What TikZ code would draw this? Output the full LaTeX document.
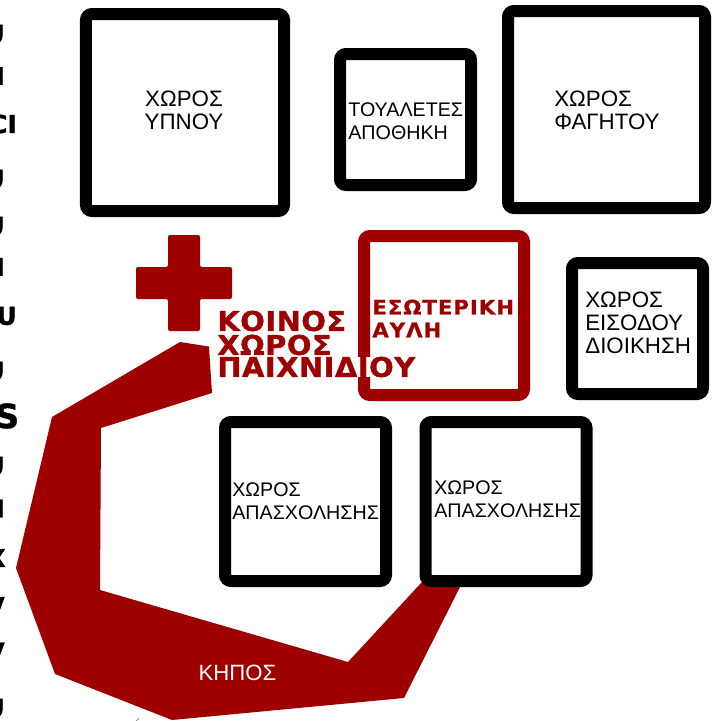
\documentclass[tikz,border=0pt]{standalone}
\usepackage{fontspec}
\setmainfont{Liberation Sans}
\newfontfamily\heavyfont{DejaVu Sans}
\newfontfamily\titlefont[FakeBold=1.2,FakeStretch=1.06,LetterSpace=2]{DejaVu Sans Bold}
\newfontfamily\yardfont[FakeBold=0.8,FakeStretch=1.06,LetterSpace=5]{DejaVu Sans Bold}
\newfontfamily\sidefont[FakeBold=1.2]{DejaVu Sans Bold}
\definecolor{darkred}{RGB}{158,0,0}
\tikzset{
  room/.style={draw=black,line width=0.24cm,rounded corners=0.12cm,inner sep=0pt},
  roomtext/.style={align=left,anchor=west,inner sep=0pt,font=\fontsize{12.7}{13}\selectfont},
  smalltext/.style={roomtext,font=\fontsize{11.2}{13.4}\selectfont},
  titletext/.style={text=darkred,anchor=west,inner sep=0pt,font=\titlefont\fontsize{15.5}{16}\selectfont},
  yardtext/.style={text=darkred,anchor=west,inner sep=0pt,font=\yardfont\fontsize{11.4}{12}\selectfont},
  sidetext/.style={anchor=east,inner sep=0pt,font=\sidefont\fontsize{14}{14}\selectfont}
}
\begin{document}
\begin{tikzpicture}
\useasboundingbox (0,0) rectangle (14.34,-14.42);

% garden
\fill[darkred] (3.6,-6.84) -- (4.18,-6.93) -- (4.24,-7.86) -- (2.02,-8.56) -- (2,-11.8)
  -- (6.96,-13.24) -- (8.44,-11.64) -- (9.2,-11.74) -- (8.08,-13.96) -- (3.44,-14.4)
  -- (1.1,-13.48) -- (0.32,-11.36) -- (1.04,-8.34) -- cycle;
\node[text=white,font=\fontsize{12.6}{13}\selectfont] (garden) at (4.75,-13.46) {ΚΗΠΟΣ};
\draw[gray,thin] (2.72,-14.42) -- (2.78,-14.36);

% cross
\fill[darkred,rounded corners=0.04cm] (3.36,-4.7) -- (4,-4.7) -- (4,-5.34) -- (4.64,-5.34) -- (4.64,-5.98)
  -- (4,-5.98) -- (4,-6.62) -- (3.36,-6.62) -- (3.36,-5.98) -- (2.72,-5.98) -- (2.72,-5.34) -- (3.36,-5.34) -- cycle;

% rooms
\node[room,minimum width=3.96cm,minimum height=3.94cm] (sleep) at (3.7,-2.25) {};
\node[room,minimum width=2.62cm,minimum height=2.62cm] (wc) at (8.11,-2.39) {};
\node[room,minimum width=3.94cm,minimum height=3.94cm] (food) at (12.13,-2.19) {};
\node[room,minimum width=2.62cm,minimum height=2.62cm] (entry) at (12.75,-6.57) {};
\node[room,minimum width=3.22cm,minimum height=3.18cm] (work1) at (6.11,-10.03) {};
\node[room,minimum width=3.22cm,minimum height=3.18cm] (work2) at (10.12,-10.03) {};
\node[room,draw=darkred,minimum width=3.2cm,minimum height=3.18cm] (yard) at (8.88,-6.31) {};

\node[roomtext,align=center,anchor=center] (sleeplabel) at (3.68,-2.2) {ΧΩΡΟΣ\\ΥΠΝΟΥ};
\node[smalltext] (wclabel) at (6.96,-2.42) {ΤΟΥΑΛΕΤΕΣ\\ΑΠΟΘΗΚΗ};
\node[roomtext] (foodlabel) at (11.08,-2.2) {ΧΩΡΟΣ\\ΦΑΓΗΤΟΥ};
\node[roomtext] (entrylabel) at (11.7,-6.46) {ΧΩΡΟΣ\\ΕΙΣΟΔΟΥ\\ΔΙΟΙΚΗΣΗ};
\node[smalltext] (work1label) at (4.64,-10.02) {ΧΩΡΟΣ\\ΑΠΑΣΧΟΛΗΣΗΣ};
\node[smalltext] (work2label) at (8.68,-9.98) {ΧΩΡΟΣ\\ΑΠΑΣΧΟΛΗΣΗΣ};

% red titles
\node[titletext,fill=white] (play3) at (4.34,-7.34) {ΠΑΙΧΝΙΔΙΟΥ};
\node[titletext] (play2) at (4.34,-6.9) {ΧΩΡΟΣ};
\node[titletext] (play1) at (4.34,-6.42) {ΚΟΙΝΟΣ};
\node[yardtext] (yard1) at (7.44,-6.14) {ΕΣΩΤΕΡΙΚΗ};
\node[yardtext] (yard2) at (7.44,-6.6) {ΑΥΛΗ};

% cut letters on the left edge
\foreach \n/\t/\x/\y in {a/U/0.1/-0.68,b/I/0.1/-1.52,c/CI/0.34/-2.48,d/U/0.1/-3.58,e/U/0.1/-4.52,
  f/I/0.1/-5.34,g/U/0.34/-6.32,h/U/0.1/-7.42,j/U/0.1/-9.32,k/I/0.1/-10.17,
  l/X/0.12/-11.16,m/V/0.1/-12.12,n/V/0.1/-13.03,o/U/0.1/-14.16}
  \node[sidetext] (side\n) at (\x,\y) {\t};
\node[sidetext,font=\sidefont\fontsize{19}{19}\selectfont] (sidei) at (0.39,-8.32) {S};
\end{tikzpicture}
\end{document}
